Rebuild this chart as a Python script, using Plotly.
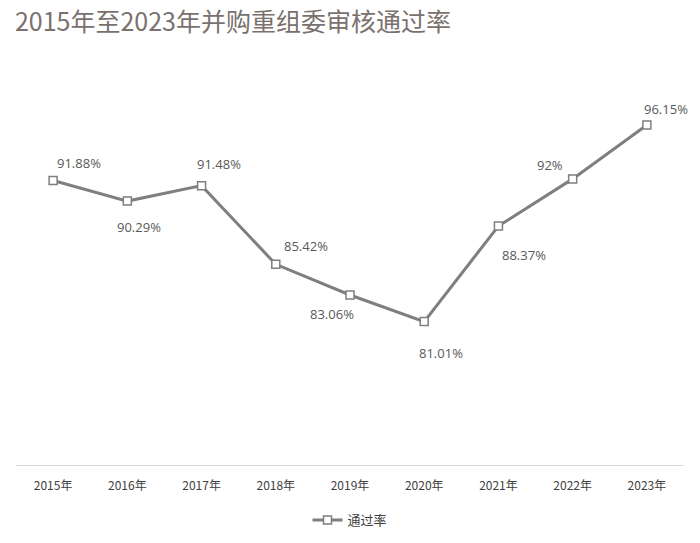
import plotly.graph_objects as go

years = ["2015年", "2016年", "2017年", "2018年", "2019年", "2020年", "2021年", "2022年", "2023年"]
rates = [91.88, 90.29, 91.48, 85.42, 83.06, 81.01, 88.37, 92.00, 96.15]
labels = ["91.88%", "90.29%", "91.48%", "85.42%", "83.06%", "81.01%", "88.37%", "92%", "96.15%"]
series_name = "通过率"
title_text = "2015年至2023年并购重组委审核通过率"

# label offsets in pixels (dx right, dy up) – styling only
label_dx = [26, 12, 17, 30, -18, 17, 26, -23, 19]
label_dy = [17, -26, 22, 18, -19, -31, -29, 14, 16]

font_family = "Noto Sans CJK SC, Noto Sans, sans-serif"
label_family = "Open Sans, Noto Sans, sans-serif"

fig = go.Figure()
fig.add_trace(go.Scatter(
    x=years, y=rates, name=series_name,
    mode="lines+markers",
    line=dict(color="#7f7f7f", width=3),
    marker=dict(symbol="square", size=8, color="white",
                line=dict(color="#7f7f7f", width=1.5)),
    cliponaxis=False,
))

for xv, yv, t, dx, dy in zip(years, rates, labels, label_dx, label_dy):
    fig.add_annotation(x=xv, y=yv, text=t, showarrow=False,
                       xshift=dx, yshift=dy,
                       font=dict(size=13, color="#595959", family=label_family))

fig.update_layout(
    width=700, height=543,
    paper_bgcolor="white", plot_bgcolor="white",
    margin=dict(l=16, r=16, t=75, b=76),
    font=dict(family=font_family),
    title=dict(text=title_text, xref="container", yref="container",
               x=0.0214, xanchor="left", y=0.9595, yanchor="middle",
               font=dict(size=25, color="#7a716e", family=font_family)),
    xaxis=dict(range=[-0.5, 8.5], showgrid=False, showline=True,
               linecolor="#d9d9d9", linewidth=1, ticklabelstandoff=10,
               ticks="", tickfont=dict(size=12, color="#404040"), zeroline=False),
    yaxis=dict(range=[70, 100], visible=False, showgrid=False, zeroline=False),
    showlegend=True,
    legend=dict(orientation="h", x=0.5, xanchor="center",
                yref="container", y=0.0424, yanchor="middle",
                font=dict(size=13, color="#404040")),
)

fig.write_html("out.html",
               config={"displayModeBar": False},
               post_script="document.body.style.margin='0';document.body.style.overflow='hidden';")
